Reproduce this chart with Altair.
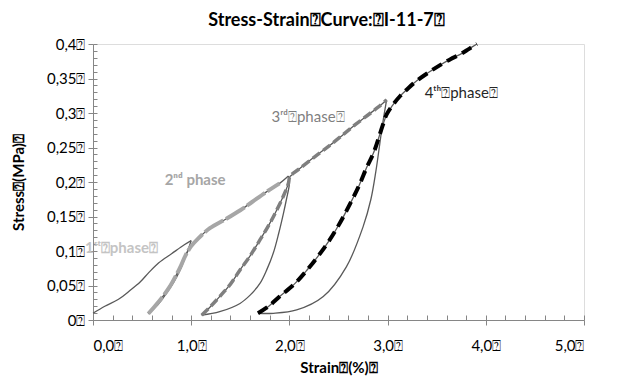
import altair as alt
import pandas as pd

BOX = "\u2370"
FONT = "Lato"

# record split into branches (loading / unloading / reloading)
load1_x = [0.00, 0.12, 0.26, 0.37, 0.48, 0.57, 0.67, 0.80, 0.93, 1.00]
load1_y = [0.0097, 0.020, 0.030, 0.042, 0.055, 0.069, 0.083, 0.096, 0.109, 0.115]
unload1_x = [1.00, 0.95, 0.886, 0.82, 0.75, 0.66, 0.563]
unload1_y = [0.115, 0.095, 0.072, 0.054, 0.039, 0.022, 0.009]
reload1_x = [0.563, 0.63, 0.70, 0.78, 0.84, 0.89, 0.94, 1.00, 1.07]
reload1_y = [0.009, 0.020, 0.032, 0.048, 0.063, 0.077, 0.093, 0.107, 0.118]
load2_x = [1.07, 1.19, 1.35, 1.50, 1.62, 1.77, 1.90, 1.99]
load2_y = [0.118, 0.133, 0.146, 0.159, 0.171, 0.186, 0.198, 0.2087]
unload2_x = [1.99, 2.00, 1.97, 1.94, 1.89, 1.836, 1.77, 1.70, 1.60, 1.497, 1.29, 1.107]
unload2_y = [0.2087, 0.198, 0.175, 0.155, 0.125, 0.097, 0.073, 0.053, 0.036, 0.024, 0.012, 0.007]
reload2_x = [1.107, 1.20, 1.29, 1.40, 1.497, 1.60, 1.70, 1.80, 1.87, 1.94, 1.99, 2.006]
reload2_y = [0.007, 0.020, 0.034, 0.052, 0.0725, 0.093, 0.116, 0.140, 0.159, 0.180, 0.198, 0.208]
load3_x = [2.006, 2.10, 2.28, 2.42, 2.55, 2.67, 2.79, 2.90, 2.99]
load3_y = [0.208, 0.219, 0.239, 0.254, 0.269, 0.283, 0.296, 0.308, 0.319]
unload3_x = [2.99, 2.95, 2.92, 2.88, 2.83, 2.75, 2.58, 2.345, 2.074, 1.836, 1.68]
unload3_y = [0.319, 0.285, 0.255, 0.215, 0.175, 0.135, 0.077, 0.034, 0.0145, 0.0097, 0.0097]
reload3_x = [1.68, 1.79, 1.90, 2.05, 2.18, 2.30, 2.41, 2.52, 2.62, 2.71, 2.79, 2.855, 2.905, 2.95, 2.99]
reload3_y = [0.0097, 0.020, 0.034, 0.052, 0.0725, 0.094, 0.116, 0.142, 0.169, 0.195, 0.222, 0.2415, 0.262, 0.282, 0.298]
load4_x = [2.99, 3.06, 3.13, 3.21, 3.30, 3.42, 3.53, 3.64, 3.74, 3.83, 3.91]
load4_y = [0.298, 0.313, 0.325, 0.336, 0.347, 0.359, 0.369, 0.378, 0.385, 0.393, 0.400]

phase_labels = ["1\u02e2\u1d57" + BOX + "phase" + BOX, "2\u207f\u1d48 phase",
                "3\u02b3\u1d48" + BOX + "phase" + BOX, "4\u1d57\u02b0" + BOX + "phase" + BOX]
label_x = [0.29, 1.04, 2.19, 3.75]
label_y = [0.104, 0.203, 0.294, 0.329]

x_major = [0, 1, 2, 3, 4, 5]
x_minor = [i * 0.2 for i in range(26)]
y_major = [i * 0.05 for i in range(9)]
y_minor = [i * 0.01 for i in range(41)]

xs = alt.Scale(domain=[0, 5], nice=False, zero=False)
ys = alt.Scale(domain=[0, 0.4], nice=False, zero=False)

AX = "#868686"

branches = [(load1_x, load1_y), (unload1_x, unload1_y), (reload1_x, reload1_y),
            (load2_x, load2_y), (unload2_x, unload2_y), (reload2_x, reload2_y),
            (load3_x, load3_y), (unload3_x, unload3_y), (reload3_x, reload3_y),
            (load4_x, load4_y)]

rows = []
for s, (bx, by) in enumerate(branches):
    for i, (a, b) in enumerate(zip(bx, by)):
        rows.append({"x": a, "y": b, "seg": s, "i": i})
thin_df = pd.DataFrame(rows)


def joined(*parts):
    xv, yv = [], []
    for px, py in parts:
        start = 1 if xv and (xv[-1], yv[-1]) == (px[0], py[0]) else 0
        xv += list(px[start:])
        yv += list(py[start:])
    return pd.DataFrame({"x": xv, "y": yv, "i": list(range(len(xv)))})


p2_df = joined((reload1_x, reload1_y), (load2_x[:-1], load2_y[:-1]))
p3_df = joined((reload2_x, reload2_y), (load3_x, load3_y))
p4_df = joined((reload3_x, reload3_y), (load4_x, load4_y))

x_main_axis = alt.Axis(values=x_major, title="Strain" + BOX + "(%)" + BOX, grid=False,
                       labelExpr="replace(format(datum.value, '.1f'), '.', ',') + '" + BOX + "'",
                       tickSize=5, tickColor=AX, domainColor=AX, labelFont=FONT, labelFontSize=15,
                       labelColor="#000000", labelPadding=13, titleFont=FONT, titleFontSize=15,
                       titleFontWeight="bold", titleColor="#000000", titlePadding=7)
y_main_axis = alt.Axis(values=y_major, title="Stress" + BOX + "(MPa)" + BOX, grid=False,
                       labelExpr="replace(format(datum.value, '.2~f'), '.', ',') + '" + BOX + "'",
                       tickSize=5, tickColor=AX, domainColor=AX, labelFont=FONT, labelFontSize=15,
                       labelColor="#000000", labelPadding=3, titleFont=FONT, titleFontSize=15,
                       titleFontWeight="bold", titleColor="#000000", titlePadding=20)
x_minor_axis = alt.Axis(values=x_minor, orient="top", offset=-276, labels=False, domain=False,
                        grid=False, tickSize=5, tickColor=AX, title=None)
y_minor_axis = alt.Axis(values=y_minor, orient="right", offset=-491, labels=False, domain=False,
                        grid=False, tickSize=4, tickColor=AX, title=None)

thin = alt.Chart(thin_df).mark_line(color="#595959", strokeWidth=1.3, interpolate="catmull-rom").encode(
    x=alt.X("x:Q", scale=xs, axis=x_main_axis),
    y=alt.Y("y:Q", scale=ys, axis=y_main_axis),
    detail="seg:N",
    order="i:Q")

ph2 = alt.Chart(p2_df).mark_line(color="#a6a6a6", strokeWidth=4, strokeDash=[22, 3],
                                 interpolate="catmull-rom").encode(
    x=alt.X("x:Q", scale=xs, axis=x_minor_axis),
    y=alt.Y("y:Q", scale=ys, axis=y_minor_axis),
    order="i:Q")

ph3 = alt.Chart(p3_df).mark_line(color="#7f7f7f", strokeWidth=3.5, strokeDash=[9, 4],
                                 interpolate="catmull-rom").encode(
    x=alt.X("x:Q", scale=xs, axis=None),
    y=alt.Y("y:Q", scale=ys, axis=None),
    order="i:Q")

ph4 = alt.Chart(p4_df).mark_line(color="#000000", strokeWidth=4, strokeDash=[11, 6],
                                 interpolate="catmull-rom").encode(
    x=alt.X("x:Q", scale=xs, axis=None),
    y=alt.Y("y:Q", scale=ys, axis=None),
    order="i:Q")

label_styles = [("#c4c4c4", "bold"), ("#a6a6a6", "bold"), ("#7f7f7f", "normal"), ("#262626", "normal")]
texts = []
for k in range(4):
    col, wt = label_styles[k]
    texts.append(
        alt.Chart(pd.DataFrame({"x": [label_x[k]], "y": [label_y[k]], "t": [phase_labels[k]]}))
        .mark_text(font=FONT, fontSize=15, fontWeight=wt, color=col, align="center", baseline="middle")
        .encode(x=alt.X("x:Q", scale=xs, axis=None), y=alt.Y("y:Q", scale=ys, axis=None), text="t:N")
    )

chart = alt.layer(thin, ph2, ph3, ph4, *texts).resolve_axis(x="independent", y="independent").properties(
    width=491, height=276,
    autosize=alt.AutoSizeParams(type="none"),
    padding={"left": 85, "top": 36, "right": 28, "bottom": 56},
    title=alt.TitleParams(text="Stress-Strain" + BOX + "Curve:" + BOX + "I-11-7" + BOX, font=FONT,
                          fontSize=18, fontWeight="bold", color="#000000", anchor="middle",
                          dx=-12, offset=6),
).configure_view(stroke=None).configure(background="#ffffff")

chart.save("out.html", embed_options={"renderer": "svg", "actions": False})
